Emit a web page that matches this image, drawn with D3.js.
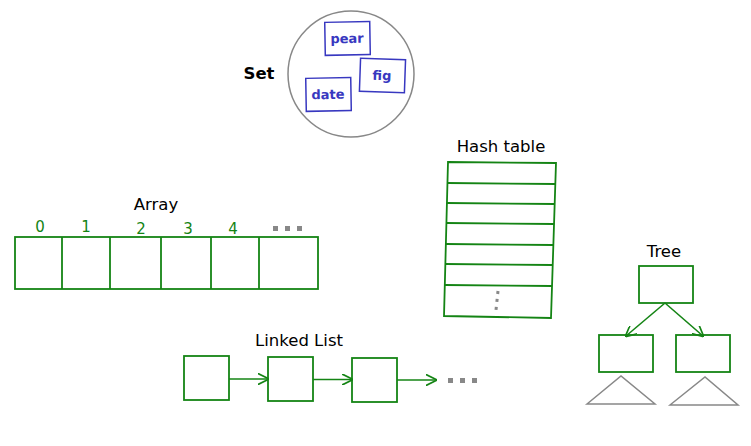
<!DOCTYPE html>
<html><head><meta charset="utf-8">
<script src="https://cdn.jsdelivr.net/npm/d3@7"></script>
<style>body{margin:0;background:#fff}text{font-family:"DejaVu Sans",sans-serif}</style>
</head><body><svg id="c" width="751" height="446"></svg>
<script>
// structures in the picture
const setItems = ["pear", "fig", "date"];
const arrayIdx = ["0", "1", "2", "3", "4"];
const arrayEdges = [15, 62, 110, 161, 211, 259, 318];
const hashRows = [162, 183, 203, 223, 244, 264, 285, 318];
const listNodes = [184, 268, 352];
const treeNodes = [[639, 266], [599, 335], [676, 335]];

const green = "#148414", blue = "#3838c0", gray = "#888";
const svg = d3.select("#c");
svg.append("defs").append("marker").attr("id", "ar").attr("viewBox", "0 0 10 10")
  .attr("refX", 9).attr("refY", 5).attr("markerWidth", 7).attr("markerHeight", 7).attr("orient", "auto")
  .append("path").attr("d", "M0,0L10,5L0,10").attr("fill", "none").attr("stroke", green).attr("stroke-width", 1.5);

function label(x, y, t) {
  return svg.append("text").attr("x", x).attr("y", y).attr("text-anchor", "middle")
    .attr("font-size", 16.5).text(t);
}
function dots(x, y) {
  svg.selectAll(null).data([0, 1, 2]).enter().append("rect")
    .attr("x", d => x + d * 12).attr("y", y).attr("width", 5).attr("height", 5).attr("fill", gray);
}

// Set
svg.append("circle").attr("cx", 351).attr("cy", 74).attr("r", 63)
  .attr("fill", "none").attr("stroke", gray).attr("stroke-width", 1.5);
label(259, 79, "Set").attr("font-weight", "bold");
const setPos = [[325, 22, -1], [360, 59, 2], [306, 78, -1]];
setItems.forEach(function(d, i) {
  const p = setPos[i];
  const g = svg.append("g").attr("transform", `rotate(${p[2]},${p[0] + 22},${p[1] + 16})`);
  g.append("rect").attr("x", p[0]).attr("y", p[1]).attr("width", 45).attr("height", 33)
    .attr("fill", "none").attr("stroke", blue).attr("stroke-width", 1.5);
  g.append("text").attr("x", p[0] + 22).attr("y", p[1] + 21).attr("text-anchor", "middle")
    .attr("font-size", 13).attr("font-weight", "bold").attr("fill", blue).text(d);
});

// Array
label(156, 210, "Array");
svg.append("rect").attr("x", 15).attr("y", 237).attr("width", 303).attr("height", 52)
  .attr("fill", "none").attr("stroke", green).attr("stroke-width", 1.8);
svg.selectAll(".ae").data(arrayEdges.slice(1, -1)).enter().append("line")
  .attr("x1", d => d).attr("x2", d => d).attr("y1", 237).attr("y2", 289)
  .attr("stroke", green).attr("stroke-width", 1.8);
const idxX = [40, 86, 141, 188, 233];
svg.selectAll(".ai").data(arrayIdx).enter().append("text")
  .attr("x", (d, i) => idxX[i]).attr("y", (d, i) => 233 + (i > 1 ? 1 : -1)).attr("text-anchor", "middle")
  .attr("font-size", 15).attr("fill", green).text(d => d);
dots(273, 226);

// Hash table
label(501, 152, "Hash table");
svg.append("path").attr("d", "M448,162L556,163L551,318L444,316Z")
  .attr("fill", "none").attr("stroke", green).attr("stroke-width", 1.8);
svg.selectAll(".hr").data(hashRows.slice(1, -1)).enter().append("line")
  .attr("x1", d => 448 - (d - 162) * 0.025).attr("x2", d => 556 - (d - 162) * 0.032)
  .attr("y1", d => d).attr("y2", d => d + 1).attr("stroke", green).attr("stroke-width", 1.8);
svg.append("line").attr("x1", 498).attr("y1", 291).attr("x2", 496).attr("y2", 310)
  .attr("stroke", gray).attr("stroke-width", 3).attr("stroke-dasharray", "3,5");

// Linked list
label(299, 346, "Linked List");
listNodes.forEach(function(x, i) {
  svg.append("rect").attr("x", x).attr("y", 356 + i).attr("width", 45).attr("height", 44)
    .attr("fill", "none").attr("stroke", green).attr("stroke-width", 1.8);
  svg.append("line").attr("x1", x + 45).attr("x2", x + 84).attr("y1", 379 + i * 0.5).attr("y2", 379 + i * 0.5)
    .attr("stroke", green).attr("stroke-width", 1.6).attr("marker-end", "url(#ar)");
});
dots(448, 378);

// Tree
label(664, 257, "Tree");
treeNodes.forEach(function(p) {
  svg.append("rect").attr("x", p[0]).attr("y", p[1]).attr("width", 54).attr("height", 37)
    .attr("fill", "none").attr("stroke", green).attr("stroke-width", 1.8);
});
[[626, 336], [703, 336]].forEach(function(t) {
  svg.append("line").attr("x1", 665).attr("y1", 303).attr("x2", t[0]).attr("y2", t[1])
    .attr("stroke", green).attr("stroke-width", 1.6).attr("marker-end", "url(#ar)");
});
[[587, 621, 655, 376, 404], [670, 705, 738, 377, 405]].forEach(function(t) {
  svg.append("path").attr("d", `M${t[0]},${t[4]}L${t[1]},${t[3]}L${t[2]},${t[4]}Z`)
    .attr("fill", "none").attr("stroke", gray).attr("stroke-width", 1.5);
});
</script></body></html>
